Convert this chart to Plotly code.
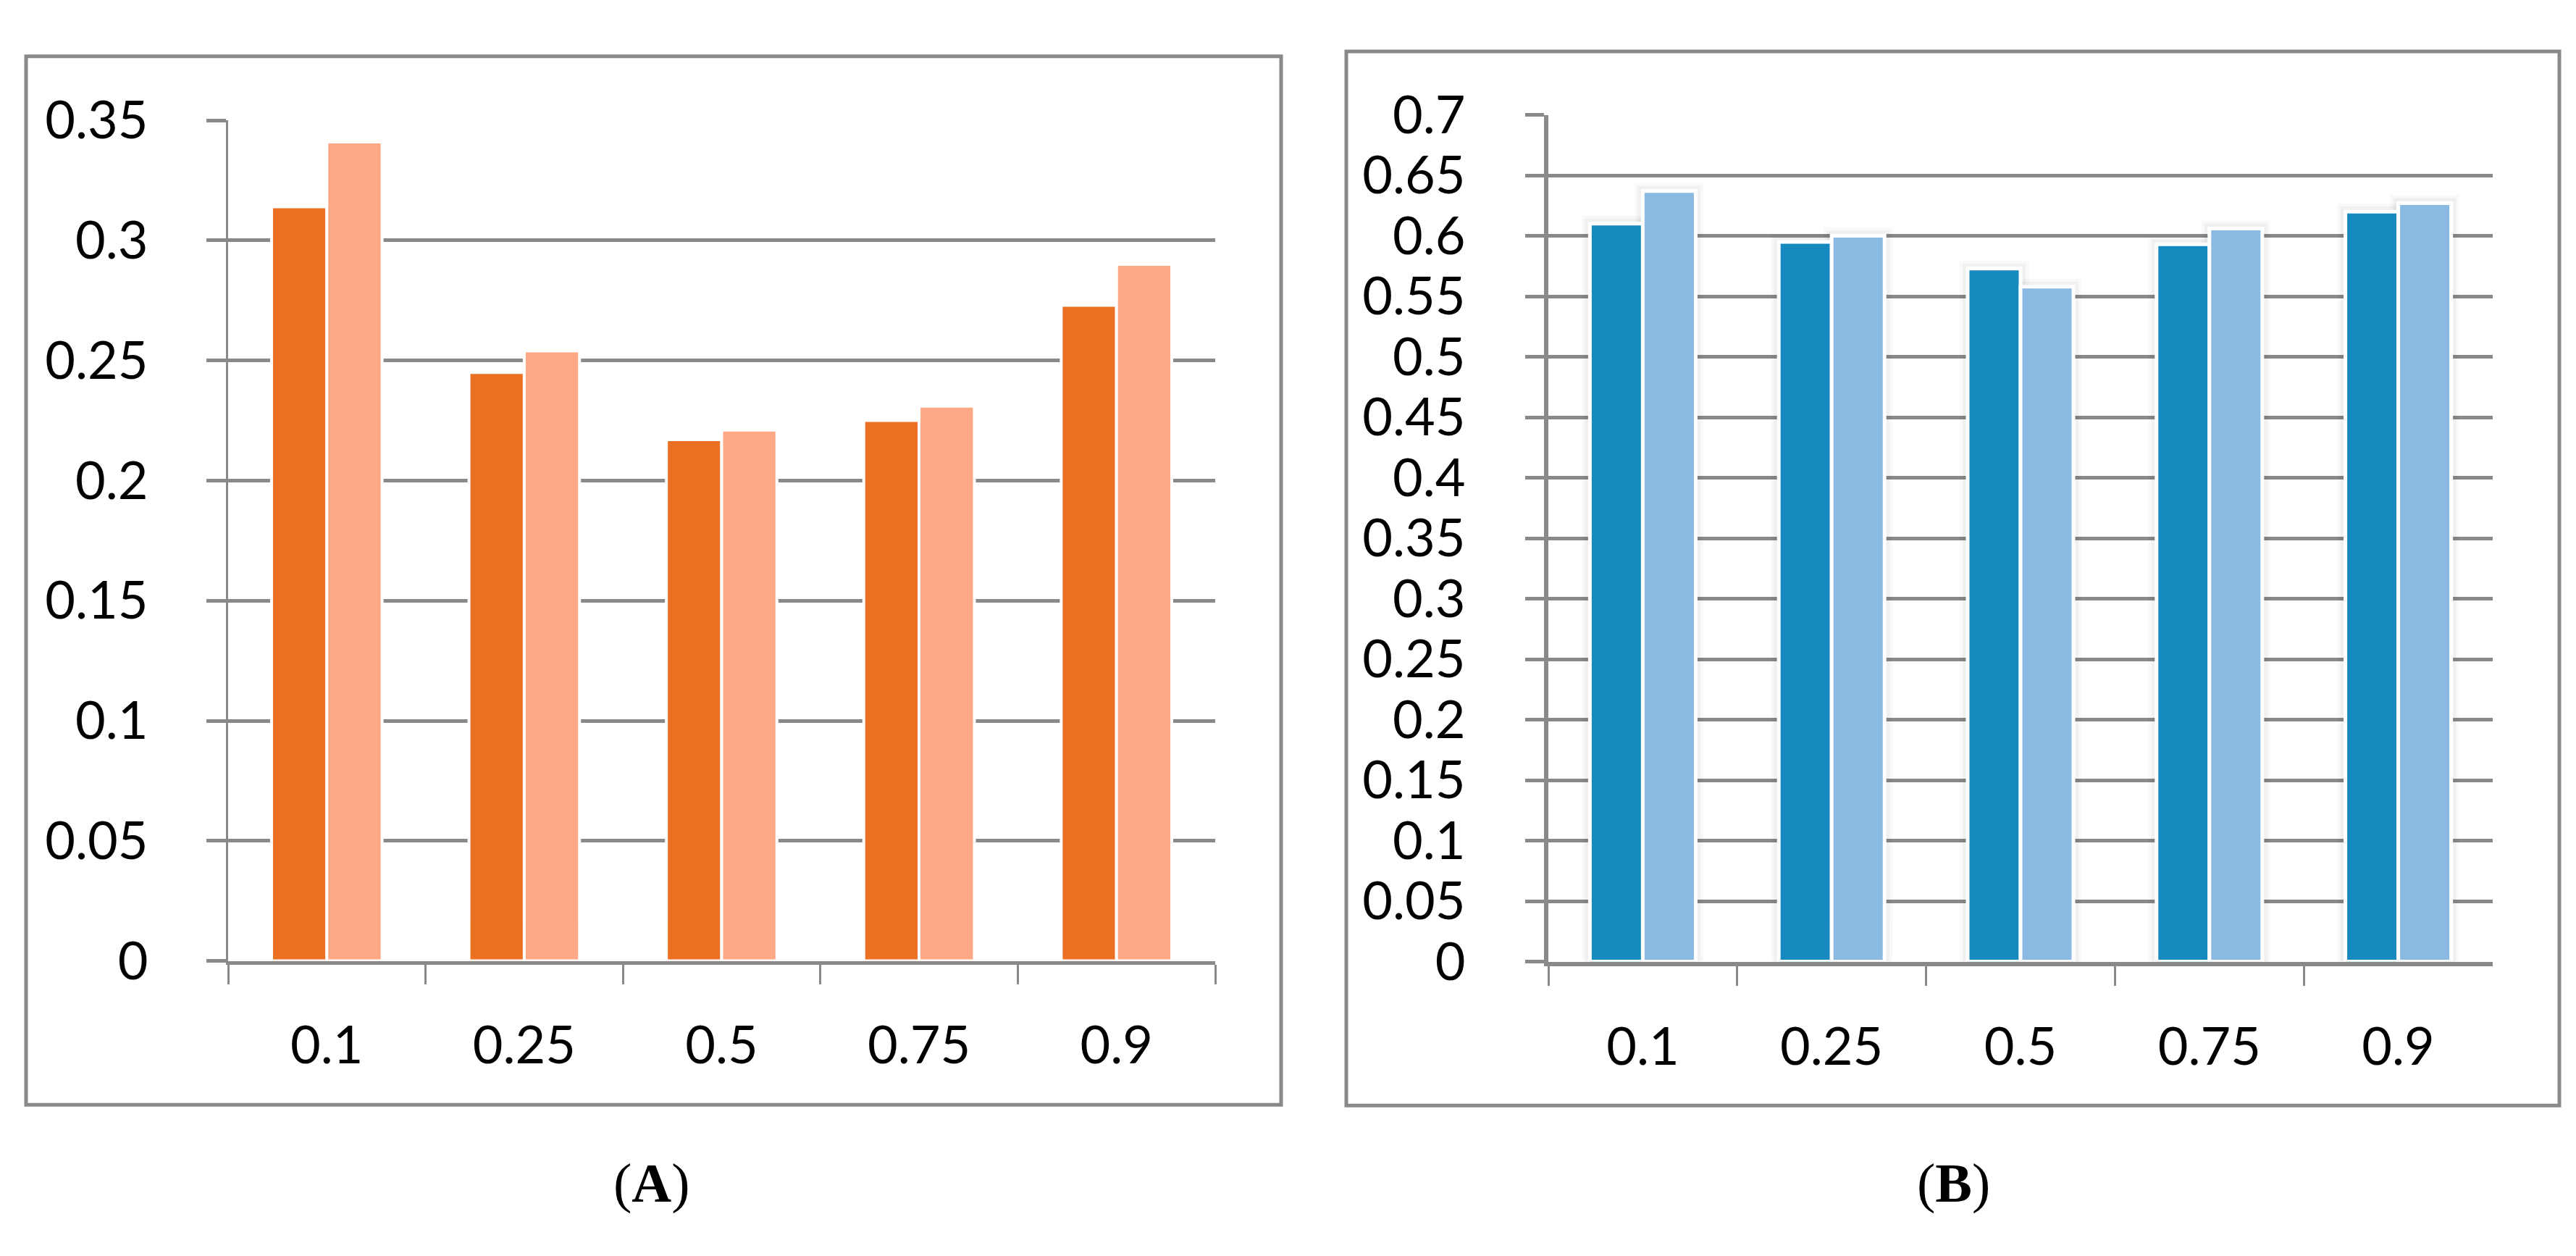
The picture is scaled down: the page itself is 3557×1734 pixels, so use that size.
import plotly.graph_objects as go

# ---------------- data ----------------
categories = ["0.1", "0.25", "0.5", "0.75", "0.9"]
a_dark = [0.314, 0.245, 0.217, 0.225, 0.273]
a_light = [0.341, 0.254, 0.221, 0.231, 0.290]
b_dark = [0.610, 0.595, 0.573, 0.593, 0.620]
b_light = [0.637, 0.600, 0.558, 0.606, 0.627]
a_yticks = [0, 0.05, 0.1, 0.15, 0.2, 0.25, 0.3, 0.35]
b_yticks = [0, 0.05, 0.1, 0.15, 0.2, 0.25, 0.3, 0.35, 0.4, 0.45, 0.5, 0.55, 0.6, 0.65, 0.7]
panel_labels = ["A", "B"]

W, H = 3557, 1734
GRAY = "#898989"
TICKFONT = dict(family="Lato", size=72, color="black")


def px_x(x):
    return x / W


def px_y(y):
    return (H - y) / H


fig = go.Figure()

# panel A bars
fig.add_trace(go.Bar(x=categories, y=a_dark, marker=dict(color="#EC7021", line=dict(color="white", width=4)),
                     xaxis="x", yaxis="y", showlegend=False))
fig.add_trace(go.Bar(x=categories, y=a_light, marker=dict(color="#FEA886", line=dict(color="white", width=4)),
                     xaxis="x", yaxis="y", showlegend=False))

# panel B soft shadows
for vals, grp in ((b_dark, "d"), (b_light, "l")):
    for wdt, alpha in ((22, 0.025), (14, 0.035)):
        fig.add_trace(go.Bar(x=categories, y=vals, offsetgroup=grp,
                             marker=dict(color="rgba(0,0,0,0)", line=dict(color=f"rgba(0,0,0,{alpha})", width=wdt)),
                             xaxis="x2", yaxis="y2", showlegend=False, hoverinfo="skip"))
# panel B bars
fig.add_trace(go.Bar(x=categories, y=b_dark, offsetgroup="d", marker=dict(color="#1689BF", line=dict(color="white", width=5)),
                     xaxis="x2", yaxis="y2", showlegend=False))
fig.add_trace(go.Bar(x=categories, y=b_light, offsetgroup="l", marker=dict(color="#8AB9E1", line=dict(color="white", width=5)),
                     xaxis="x2", yaxis="y2", showlegend=False))

common_x = dict(type="category", tickson="boundaries", ticks="outside", ticklen=27, tickwidth=3,
                tickcolor=GRAY, showline=True, linecolor=GRAY, showgrid=False, tickfont=TICKFONT,
                ticklabelstandoff=50, zeroline=False, fixedrange=True)

fig.update_layout(
    width=W, height=H, autosize=False,
    margin=dict(l=0, r=0, t=0, b=0),
    paper_bgcolor="white", plot_bgcolor="white",
    barmode="group",
    xaxis=dict(domain=[px_x(307), px_x(1670)], anchor="y", linewidth=5, **common_x),
    yaxis=dict(domain=[px_y(1339), px_y(118)], anchor="x", range=[0, 0.35], tickvals=a_yticks,
               ticktext=[f"{v:g}" for v in a_yticks],
               ticks="outside", ticklen=27, tickwidth=5, tickcolor=GRAY,
               showgrid=True, gridcolor=GRAY, gridwidth=5, showline=True, linecolor=GRAY, linewidth=3,
               zeroline=False, tickfont=TICKFONT, ticklabelstandoff=66),
    xaxis2=dict(domain=[px_x(2130), px_x(3434)], anchor="y2", linewidth=6, **common_x),
    yaxis2=dict(domain=[px_y(1340), px_y(110)], anchor="x2", range=[0, 0.7], tickvals=b_yticks,
                ticktext=[f"{v:g}" for v in b_yticks],
                ticks="outside", ticklen=26, tickwidth=5, tickcolor=GRAY,
                showgrid=True, gridcolor=GRAY, gridwidth=5, showline=True, linecolor=GRAY, linewidth=6,
                zeroline=False, tickfont=TICKFONT, ticklabelstandoff=68),
    bargap=0.44, bargroupgap=0.0,
)

# panel borders
fig.add_shape(type="rect", xref="paper", yref="paper", x0=px_x(28), x1=px_x(1761), y0=px_y(1548), y1=px_y(25),
              line=dict(color=GRAY, width=5), layer="below")
fig.add_shape(type="rect", xref="paper", yref="paper", x0=px_x(1851), x1=px_x(3526), y0=px_y(1549), y1=px_y(18),
              line=dict(color=GRAY, width=5), layer="below")

# panel captions
for lab, cx in zip(panel_labels, [892, 2689]):
    fig.add_annotation(xref="paper", yref="paper", x=px_x(cx), y=px_y(1662), text=f"(<b>{lab}</b>)",
                       showarrow=False, xanchor="center", yanchor="middle",
                       font=dict(family="Liberation Serif", size=76, color="black"))

fig.write_html("out.html")
